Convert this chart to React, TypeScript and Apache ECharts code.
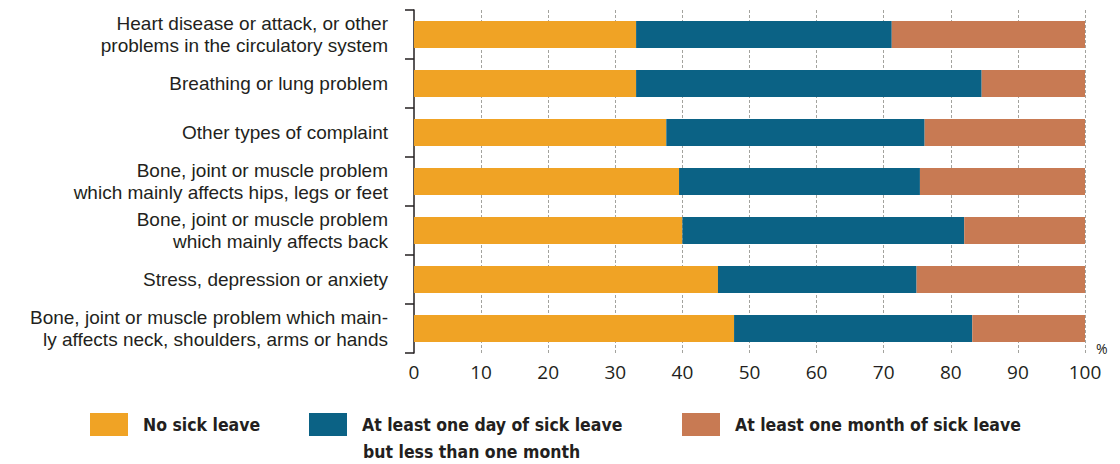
import React, { useEffect, useRef } from "react";
import * as echarts from "echarts";

const categories = [
  "Heart disease or attack, or other\nproblems in the circulatory system",
  "Breathing or lung problem",
  "Other types of complaint",
  "Bone, joint or muscle problem\nwhich mainly affects hips, legs or feet",
  "Bone, joint or muscle problem\nwhich mainly affects back",
  "Stress, depression or anxiety",
  "Bone, joint or muscle problem which main-\nly affects neck, shoulders, arms or hands",
];
const noSickLeave = [33.1, 33.1, 37.6, 39.5, 40.0, 45.3, 47.7];
const atLeastOneDay = [38.1, 51.5, 38.5, 35.9, 42.0, 29.6, 35.5];
const atLeastOneMonth = [28.8, 15.4, 23.9, 24.6, 18.0, 25.1, 16.8];
const seriesNames = [
  "No sick leave",
  "At least one day of sick leave",
  "At least one month of sick leave",
];
const legendSecondLine = "but less than one month";
const xTicks = [0, 10, 20, 30, 40, 50, 60, 70, 80, 90, 100];

const colors = ["#F0A325", "#0B6285", "#C87A53"];
const textColor = "#231F20";
const font = "'Open Sans', 'Noto Sans', sans-serif";
const labelFont = "'Liberation Sans', Arial, sans-serif";
const legendFont = "'Liberation Sans Narrow', 'DejaVu Sans Condensed', sans-serif";

export default function App() {
  const ref = useRef<HTMLDivElement>(null);
  useEffect(() => {
    if (!ref.current) return;
    const chart = echarts.init(ref.current, undefined, { renderer: "svg" });
    const values = [noSickLeave, atLeastOneDay, atLeastOneMonth];
    const legendLefts = [90, 309, 682];
    chart.setOption({
      animation: false,
      grid: { left: 414, right: 35, top: 10, bottom: 111, containLabel: false },
      xAxis: {
        type: "value",
        min: xTicks[0],
        max: xTicks[xTicks.length - 1],
        interval: 10,
        axisLine: { show: false },
        axisTick: { show: false },
        axisLabel: {
          color: textColor,
          fontFamily: font,
          fontSize: 19,
          margin: 9,
        },
        splitLine: {
          show: true,
          showMinLine: false,
          showMaxLine: true,
          lineStyle: { color: "#A3A39E", type: [3, 2], width: 1 },
        },
      },
      yAxis: {
        type: "category",
        inverse: true,
        data: categories,
        axisLine: { show: true, lineStyle: { color: textColor, width: 1.5 } },
        axisTick: { show: true, length: 9, lineStyle: { color: textColor, width: 1.5 } },
        axisLabel: {
          color: textColor,
          fontFamily: labelFont,
          fontSize: 19,
          lineHeight: 22,
          margin: 26,
          align: "right",
        },
      },
      legend: seriesNames.map((n, i) => ({
        data: [n],
        left: legendLefts[i],
        top: 413,
        padding: 0,
        orient: "horizontal",
        itemWidth: 38,
        itemHeight: 23,
        itemGap: 0,
        icon: "rect",
        selectedMode: false,
        textStyle: {
          color: textColor,
          fontFamily: legendFont,
          fontWeight: "bold",
          fontSize: 17.5,
          padding: [0, 0, 0, 10],
        },
      })),
      graphic: [
        {
          type: "text",
          left: 1096,
          top: 341,
          style: { text: "%", fill: textColor, font: `14px ${font}` },
        },
        {
          type: "text",
          left: 363,
          top: 443,
          style: {
            text: legendSecondLine,
            fill: textColor,
            font: `bold 17.5px ${legendFont}`,
          },
        },
      ],
      series: seriesNames.map((n, i) => ({
        name: n,
        type: "bar",
        stack: "total",
        data: values[i],
        barWidth: "55%",
        itemStyle: { color: colors[i] },
      })),
    });
    return () => chart.dispose();
  }, []);
  return <div ref={ref} style={{ width: 1120, height: 464, position: "absolute", left: 0, top: 0 }} />;
}
